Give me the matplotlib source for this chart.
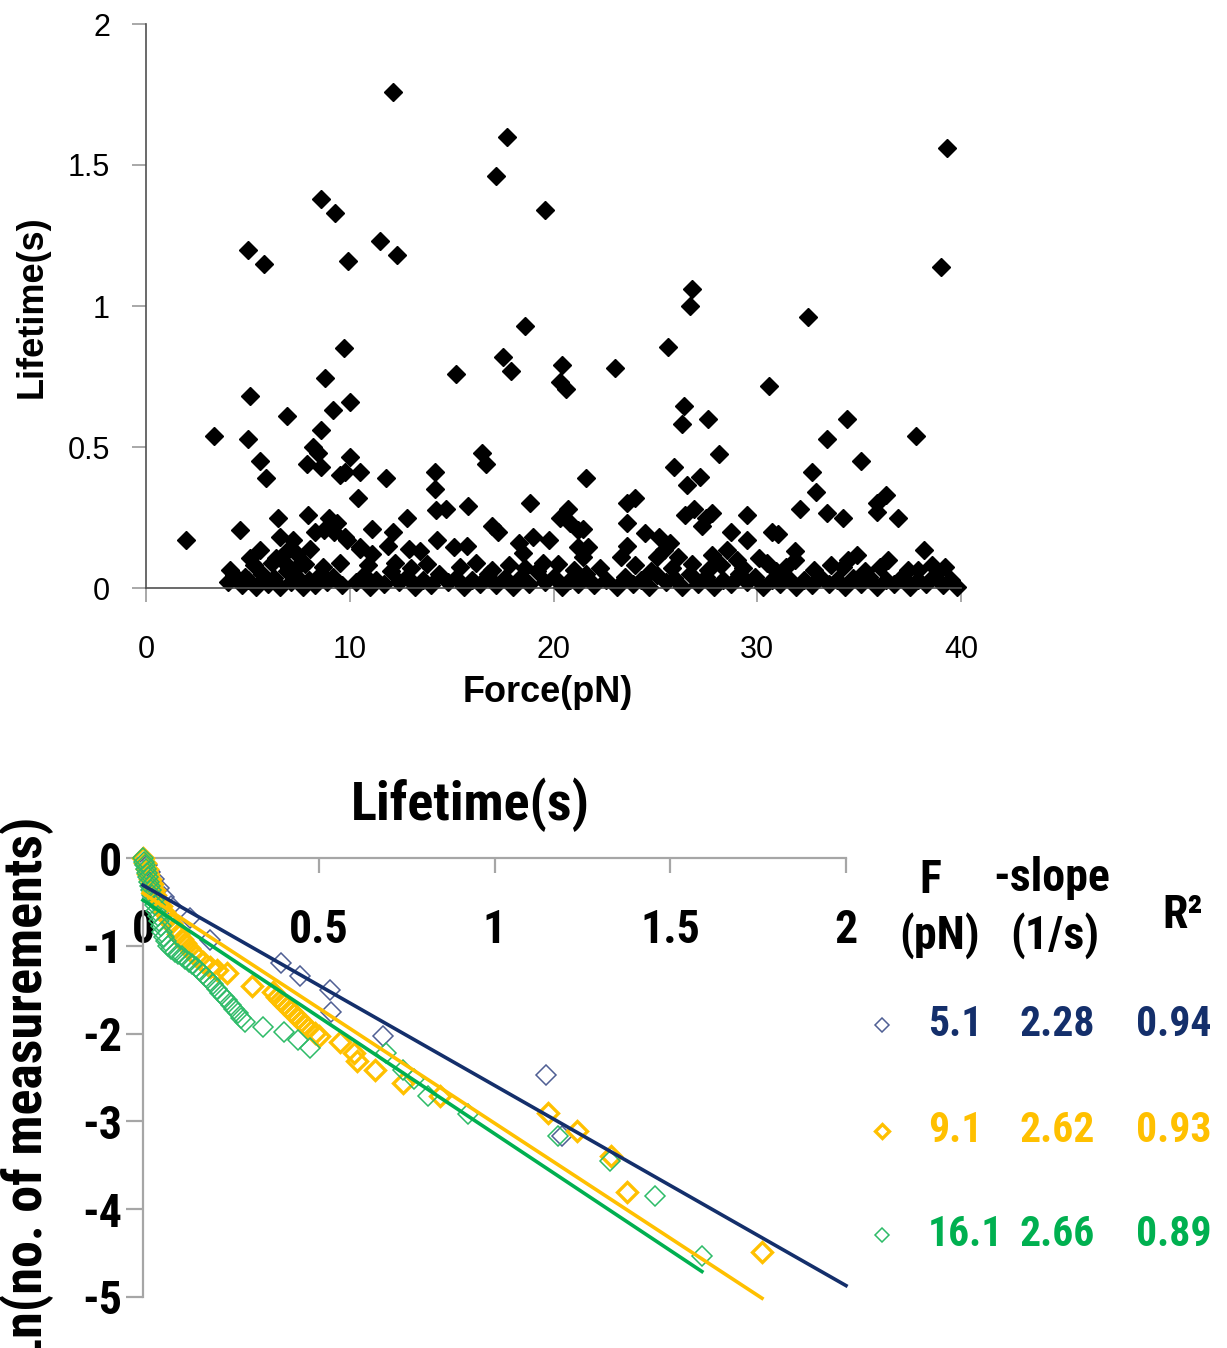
import matplotlib
matplotlib.use("Agg")
import matplotlib.pyplot as plt
from matplotlib import font_manager as fm

plt.rcParams["axes.unicode_minus"] = False

SANS = ["Liberation Sans", "DejaVu Sans"]

# ---- top panel: lifetime vs force ----
hi_points = [
    (1.96, 0.17), (3.34, 0.54), (5.0, 1.20), (5.8, 1.15), (5.1, 0.68), (5.0, 0.53),
    (5.6, 0.45), (5.9, 0.39), (6.9, 0.61), (8.6, 1.38), (9.3, 1.33), (9.9, 1.16),
    (9.7, 0.85), (8.8, 0.745), (9.2, 0.63), (10.0, 0.66), (8.6, 0.56), (8.2, 0.50),
    (8.45, 0.48), (7.9, 0.44), (8.6, 0.43), (9.5, 0.40), (9.77, 0.41), (10.0, 0.465),
    (10.5, 0.41), (10.4, 0.32), (11.5, 1.23), (12.3, 1.18), (12.1, 1.76), (11.8, 0.39),
    (14.2, 0.41), (14.2, 0.35), (15.2, 0.76), (15.8, 0.29), (17.2, 1.46), (17.7, 1.60),
    (17.5, 0.82), (17.9, 0.77), (18.6, 0.93), (16.5, 0.48), (16.7, 0.44), (18.85, 0.30),
    (19.6, 1.34), (20.4, 0.79), (20.3, 0.73), (20.6, 0.705), (21.6, 0.39), (23.0, 0.78),
    (25.6, 0.855), (26.8, 1.06), (26.7, 1.00), (26.4, 0.645), (26.3, 0.58), (25.9, 0.43),
    (27.6, 0.60), (28.1, 0.475), (26.55, 0.365), (27.2, 0.395), (30.6, 0.715), (32.5, 0.96),
    (33.4, 0.53), (34.4, 0.60), (32.7, 0.41), (32.9, 0.34), (35.1, 0.45), (36.3, 0.33),
    (35.9, 0.30), (37.8, 0.54), (39.3, 1.56), (39.0, 1.14), (23.6, 0.30), (24.0, 0.32),
]

mid_points = [
    (4.6, 0.205), (6.5, 0.25), (7.95, 0.26), (9.0, 0.25), (9.37, 0.23), (8.3, 0.20),
    (8.75, 0.205), (9.25, 0.20), (9.75, 0.18), (11.1, 0.21), (12.1, 0.20), (12.8, 0.25),
    (14.25, 0.275), (14.7, 0.28), (17.0, 0.22), (17.3, 0.20), (6.58, 0.18), (9.86, 0.17),
    (10.5, 0.145), (5.6, 0.135), (8.05, 0.14), (6.9, 0.13), (5.1, 0.105), (6.4, 0.105),
    (11.1, 0.12), (10.5, 0.14), (11.9, 0.15), (12.9, 0.14), (13.45, 0.13), (14.3, 0.17),
    (15.1, 0.145), (15.75, 0.15), (18.3, 0.16), (18.5, 0.125), (19.0, 0.18), (19.8, 0.17),
    (19.5, 0.09), (20.3, 0.25), (20.7, 0.28), (20.8, 0.23), (21.2, 0.205), (21.2, 0.145),
    (21.45, 0.21), (21.7, 0.145), (21.45, 0.11), (23.6, 0.23), (23.6, 0.15), (23.3, 0.11),
    (24.5, 0.195), (25.2, 0.18), (25.7, 0.16), (25.4, 0.135), (26.1, 0.11), (25.1, 0.11),
    (26.45, 0.26), (26.9, 0.28), (27.5, 0.25), (27.8, 0.265), (27.3, 0.22), (27.8, 0.117),
    (28.5, 0.135), (29.0, 0.10), (28.7, 0.20), (29.5, 0.26), (29.5, 0.17), (30.7, 0.20),
    (30.1, 0.106), (30.5, 0.09), (32.1, 0.28), (33.4, 0.265), (34.2, 0.25), (35.9, 0.27),
    (36.9, 0.25), (31.0, 0.19), (31.85, 0.13), (31.85, 0.10), (34.9, 0.117), (34.45, 0.10),
    (36.4, 0.10), (38.2, 0.135), (39.2, 0.075), (37.9, 0.064), (34.2, 0.075), (7.2, 0.17),
    (7.4, 0.12), (6.8, 0.09), (7.5, 0.08), (4.12, 0.065), (4.85, 0.04),
]

band_points = [
    (4.0, 0.02), (4.3, 0.045), (4.7, 0.01), (5.0, 0.03), (5.4, 0.005), (5.7, 0.05),
    (6.0, 0.015), (6.3, 0.035), (6.6, 0.005), (6.9, 0.06), (7.1, 0.02), (7.4, 0.04),
    (7.7, 0.005), (8.0, 0.03), (8.3, 0.01), (8.6, 0.05), (8.9, 0.02), (9.2, 0.04),
    (9.6, 0.01), (10.3, 0.02), (10.7, 0.045), (11.0, 0.005), (11.3, 0.03), (11.7, 0.015),
    (12.0, 0.06), (12.4, 0.02), (12.8, 0.04), (13.2, 0.005), (13.6, 0.03), (14.0, 0.01),
    (14.4, 0.05), (14.8, 0.02), (15.2, 0.035), (15.6, 0.005), (16.0, 0.03), (16.4, 0.015),
    (16.8, 0.05), (17.2, 0.01), (17.6, 0.035), (18.0, 0.005), (18.4, 0.04), (18.8, 0.015),
    (19.2, 0.06), (19.6, 0.02), (20.0, 0.04), (20.4, 0.005), (20.8, 0.03), (21.2, 0.015),
    (21.6, 0.05), (22.0, 0.01), (22.6, 0.03), (23.1, 0.005), (23.5, 0.04), (23.9, 0.015),
    (24.3, 0.03), (24.7, 0.005), (25.1, 0.045), (25.5, 0.02), (25.9, 0.035), (26.3, 0.005),
    (26.7, 0.05), (27.1, 0.015), (27.5, 0.04), (27.9, 0.005), (28.3, 0.03), (28.7, 0.015),
    (29.1, 0.05), (29.5, 0.02), (29.9, 0.04), (30.3, 0.005), (30.7, 0.03), (31.1, 0.015),
    (31.5, 0.035), (31.9, 0.005), (32.3, 0.03), (32.7, 0.01), (33.1, 0.04), (33.5, 0.015),
    (33.9, 0.03), (34.3, 0.005), (34.7, 0.035), (35.1, 0.015), (35.5, 0.04), (35.9, 0.005),
    (36.3, 0.03), (36.7, 0.015), (37.1, 0.04), (37.5, 0.005), (37.9, 0.03), (38.3, 0.015),
    (38.7, 0.045), (39.1, 0.01), (39.5, 0.03), (39.8, 0.005),
    (5.3, 0.08), (6.2, 0.09), (7.0, 0.07), (7.8, 0.085), (8.7, 0.075), (9.5, 0.09),
    (10.9, 0.08), (12.2, 0.09), (13.0, 0.07), (13.8, 0.085), (15.4, 0.075), (16.2, 0.09),
    (17.0, 0.065), (17.8, 0.08), (18.6, 0.07), (20.2, 0.085), (21.0, 0.065), (22.3, 0.07),
    (24.0, 0.08), (24.8, 0.06), (25.8, 0.07), (26.8, 0.085), (27.6, 0.065), (28.2, 0.08),
    (29.3, 0.07), (30.9, 0.06), (31.4, 0.075), (32.8, 0.065), (33.6, 0.08), (35.3, 0.06),
    (36.0, 0.075), (37.4, 0.065), (38.6, 0.08),
]

# ---- bottom panel: ln(no. of measurements) vs lifetime ----
blue_t = [0.0, 0.01, 0.02, 0.03, 0.045, 0.06, 0.08, 0.134, 0.19, 0.393, 0.447, 0.532,
          0.535, 0.683, 1.147, 1.192]
blue_ln = [0.0, -0.08, -0.16, -0.24, -0.34, -0.44, -0.55, -0.68, -0.93, -1.20, -1.34, -1.50,
           -1.75, -2.03, -2.47, -3.17]

yellow_t = [0.0, 0.005, 0.01, 0.015, 0.02, 0.025, 0.03, 0.035, 0.04, 0.05, 0.06, 0.07, 0.08,
            0.09, 0.10, 0.11, 0.12, 0.13, 0.14, 0.15, 0.17, 0.19, 0.21, 0.24, 0.31, 0.37, 0.38,
            0.39, 0.40, 0.41, 0.42, 0.43, 0.44, 0.45, 0.46, 0.47, 0.49, 0.50, 0.56, 0.60, 0.61,
            0.66, 0.74, 0.845, 1.152, 1.235, 1.331, 1.377, 1.761]
yellow_ln = [0.0, -0.06, -0.12, -0.18, -0.24, -0.30, -0.36, -0.42, -0.48, -0.55, -0.62, -0.68,
             -0.74, -0.80, -0.86, -0.92, -0.97, -1.02, -1.07, -1.12, -1.18, -1.24, -1.28, -1.31,
             -1.46, -1.53, -1.58, -1.62, -1.66, -1.70, -1.74, -1.78, -1.82, -1.86, -1.90, -1.94,
             -1.99, -2.03, -2.09, -2.22, -2.31, -2.41, -2.56, -2.71, -2.90, -3.11, -3.39, -3.80,
             -4.49]

green_t = [0.0, 0.003, 0.006, 0.009, 0.012, 0.015, 0.018, 0.021, 0.024, 0.027, 0.03, 0.034,
           0.038, 0.042, 0.046, 0.05, 0.055, 0.06, 0.065, 0.07, 0.08, 0.09, 0.10, 0.11, 0.12,
           0.13, 0.14, 0.15, 0.16, 0.17, 0.18, 0.19, 0.20, 0.21, 0.22, 0.23, 0.24, 0.25, 0.26,
           0.27, 0.28, 0.29, 0.34, 0.40, 0.44, 0.475, 0.69, 0.74, 0.77, 0.81, 0.925, 1.18, 1.33,
           1.457, 1.59]
green_ln = [0.0, -0.04, -0.08, -0.12, -0.17, -0.22, -0.27, -0.32, -0.37, -0.42, -0.48, -0.54,
            -0.60, -0.66, -0.72, -0.78, -0.84, -0.90, -0.95, -1.00, -1.04, -1.07, -1.09, -1.12,
            -1.15, -1.18, -1.21, -1.24, -1.28, -1.32, -1.36, -1.40, -1.44, -1.49, -1.54, -1.58,
            -1.62, -1.67, -1.72, -1.77, -1.82, -1.87, -1.93, -1.98, -2.07, -2.16, -2.22, -2.41,
            -2.52, -2.71, -2.92, -3.17, -3.45, -3.85, -4.53]

force_labels = ["5.1", "9.1", "16.1"]
neg_slopes = [2.28, 2.62, 2.66]
r_squared = [0.94, 0.93, 0.89]
fit_intercepts = [-0.31, -0.40, -0.48]
fit_t_end = [2.0, 1.761, 1.59]

NAVY = "#142f6b"
YELLOW = "#ffc000"
GREEN = "#00b050"
line_colors = [NAVY, YELLOW, GREEN]
edge_colors = ["#4f5f94", YELLOW, "#2dbb68"]
edge_widths = [1.1, 2.4, 1.1]


def condensed_bold():
    """Find a bold, condensed face on this machine (the reference uses Arial Narrow Bold)."""
    wanted = ["Liberation Sans Narrow", "Arial Narrow", "Roboto Condensed", "Noto Sans",
              "Open Sans", "DejaVu Sans"]
    narrow_words = ("condensed", "narrow")
    for fam in wanted:
        for f in fm.fontManager.ttflist:
            if not f.name.startswith(fam):
                continue
            stretch = str(f.stretch).lower()
            fname = f.fname.lower()
            is_narrow = any(w in stretch for w in narrow_words) or \
                any(w in fname for w in narrow_words) or "narrow" in f.name.lower()
            is_semi = "semi" in stretch or "semi" in fname or "extra" in fname or "ultra" in fname
            weight = f.weight if isinstance(f.weight, int) else (700 if "bold" in str(f.weight) else 400)
            if is_narrow and not is_semi and weight == 700:
                return fm.FontProperties(fname=f.fname), 1.0
    return fm.FontProperties(family=SANS, weight="bold"), 0.84


COND, SCALE = condensed_bold()


def cfont(size):
    p = COND.copy()
    p.set_size(size * SCALE)
    return p


W, H = 1227, 1348
fig = plt.figure(figsize=(W / 100, H / 100), dpi=100)

# ---------------- top scatter ----------------
ax1 = fig.add_axes([146 / W, 1 - 588 / H, 815 / W, 564 / H])
all_pts = hi_points + mid_points + band_points
ax1.plot([p[0] for p in all_pts], [p[1] for p in all_pts], "D", ms=9, color="black",
         mec="black", clip_on=False)
ax1.set_xlim(0, 40)
ax1.set_ylim(0, 2)
ax1.set_xticks([0, 10, 20, 30, 40])
ax1.set_yticks([0, 0.5, 1, 1.5, 2])
ax1.set_yticklabels(["0", "0.5", "1", "1.5", "2"])
for s in ["top", "right"]:
    ax1.spines[s].set_visible(False)
for s in ["left", "bottom"]:
    ax1.spines[s].set_color("#505050")
    ax1.spines[s].set_linewidth(1.2)
ax1.tick_params(axis="y", direction="out", length=10, width=1.2, color="#9a9a9a", pad=16)
ax1.tick_params(axis="x", direction="out", length=10, width=1.2, color="#9a9a9a", pad=24)
for lab in ax1.get_xticklabels() + ax1.get_yticklabels():
    lab.set_family(SANS)
    lab.set_fontsize(22)
ax1.set_xlabel("Force(pN)", family=SANS, fontsize=26, fontweight="bold")
ax1.xaxis.set_label_coords(0.493, -0.186)
ax1.xaxis.label.set_va("center")
ax1.set_ylabel("Lifetime(s)", family=SANS, fontsize=26, fontweight="bold")
ax1.yaxis.set_label_coords(-0.140, 0.498)
ax1.yaxis.label.set_va("center")

# ---------------- bottom survival plot ----------------
ax2 = fig.add_axes([143 / W, 1 - 1297 / H, 703 / W, 439 / H])
series = [(blue_t, blue_ln), (yellow_t, yellow_ln), (green_t, green_ln)]
for (t, ln), ec, ew in zip(series, edge_colors, edge_widths):
    ax2.plot(t, ln, "D", ms=10, mfc="none", mec=ec, mew=ew, clip_on=False, zorder=3)
for b, m, t_end, c in zip(fit_intercepts, neg_slopes, fit_t_end, line_colors):
    ax2.plot([0, t_end], [b, b - m * t_end], color=c, lw=2.6, clip_on=False, zorder=4)

ax2.set_xlim(0, 2)
ax2.set_ylim(-5, 0)
ax2.set_xticks([0, 0.5, 1, 1.5, 2])
ax2.set_xticklabels(["0", "0.5", "1", "1.5", "2"])
ax2.set_yticks([0, -1, -2, -3, -4, -5])
ax2.set_yticklabels(["0", "-1", "-2", "-3", "-4", "-5"])
ax2.spines["bottom"].set_visible(False)
ax2.spines["right"].set_visible(False)
for s in ["left", "top"]:
    ax2.spines[s].set_color("#a6a6a6")
    ax2.spines[s].set_linewidth(1.6)
ax2.xaxis.set_ticks_position("top")
ax2.tick_params(axis="x", top=True, bottom=False, labeltop=True, labelbottom=False,
                direction="in", length=11, width=1.6, color="#a6a6a6", pad=-68)
ax2.tick_params(axis="y", direction="out", length=12, width=1.6, color="#a6a6a6", pad=3)
for lab in ax2.get_xticklabels() + ax2.get_yticklabels():
    lab.set_fontproperties(cfont(33))
ax2.xaxis.set_label_position("top")
ax2.set_xlabel("Lifetime(s)", fontproperties=cfont(39))
ax2.xaxis.set_label_coords(0.465, 1.121)
ax2.xaxis.label.set_va("center")
ax2.set_ylabel("Ln(no. of measurements)", fontproperties=cfont(39))
ax2.yaxis.set_label_coords(-0.165, 0.47)
ax2.yaxis.label.set_va("center")

# ---------------- fit table on the right ----------------
ov = fig.add_axes([0, 0, 1, 1])
ov.set_xlim(0, W)
ov.set_ylim(H, 0)
ov.axis("off")
hdr = dict(fontproperties=cfont(33), ha="center", va="center")
ov.text(930, 880, "F", **hdr)
ov.text(940, 936, "(pN)", **hdr)
ov.text(1052, 878, "-slope", **hdr)
ov.text(1055, 936, "(1/s)", **hdr)
ov.text(1183, 915, "R²", **hdr)
row_y = [1025, 1131, 1235]
for y, f, sl, r2, c, ec, ew in zip(row_y, force_labels, neg_slopes, r_squared,
                                   line_colors, edge_colors, edge_widths):
    ov.plot([882], [y], "D", ms=7, mfc="none", mec=ec, mew=ew)
    ov.text(928, y, f, fontproperties=cfont(30), color=c, ha="left", va="center")
    ov.text(1057, y, f"{sl:.2f}", fontproperties=cfont(30), color=c, ha="center", va="center")
    ov.text(1174, y, f"{r2:.2f}", fontproperties=cfont(30), color=c, ha="center", va="center")

fig.savefig("out.png", dpi=100)
